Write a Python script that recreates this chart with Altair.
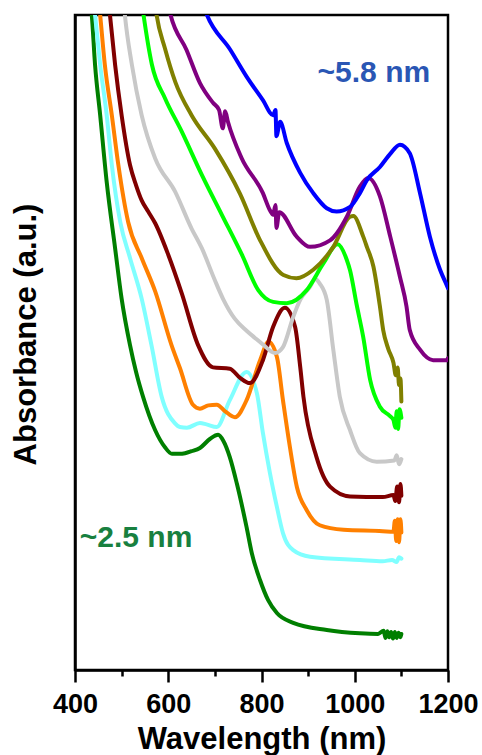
import altair as alt
import pandas as pd

FONT = "Liberation Sans"

# Series (wavelength in nm, absorbance in a.u., offset-stacked)
names = ["s1_2.5nm", "s2", "s3", "s4", "s5", "s6", "s7", "s8", "s9_5.8nm"]
colors = ["#007F00", "#80FFFF", "#FF8000", "#800000", "#C8C8C8",
          "#00FF00", "#808000", "#800080", "#0000FF"]

green_wl = [434, 436, 443, 454, 468, 486, 500, 518, 531, 546, 572, 593, 608, 625, 636, 650, 668, 690, 707, 718,
            732, 747, 768, 779, 797, 814, 833, 868, 940, 1011, 1050, 1062, 1066, 1070, 1074, 1078, 1082, 1086,
            1090, 1094, 1098, 1100]
green_ab = [10.15, 10.0, 9.24, 8.47, 7.45, 6.44, 5.67, 4.96, 4.55, 4.17, 3.66, 3.40, 3.30, 3.30, 3.31, 3.34, 3.39,
            3.53, 3.59, 3.50, 3.25, 2.85, 2.18, 1.79, 1.37, 1.07, 0.87, 0.72, 0.61, 0.56, 0.55, 0.60, 0.49, 0.59,
            0.50, 0.58, 0.48, 0.58, 0.49, 0.57, 0.50, 0.55]

cyan_wl = [441, 443, 454, 468, 479, 497, 518, 543, 564, 586, 614, 625, 640, 668, 682, 704, 732, 768, 790, 803,
           818, 833, 846, 868, 904, 1011, 1060, 1080, 1090, 1095, 1100]
cyan_ab = [10.15, 10.0, 9.24, 8.47, 7.71, 6.84, 6.29, 5.67, 4.96, 4.17, 3.77, 3.71, 3.70, 3.77, 3.75, 3.71, 4.12,
           4.55, 4.23, 3.62, 3.01, 2.49, 2.09, 1.83, 1.73, 1.68, 1.66, 1.68, 1.65, 1.72, 1.70]

orange_wl = [452, 454, 464, 479, 493, 514, 543, 572, 607, 625, 653, 668, 686, 704, 722, 743, 768, 797, 815, 833,
             846, 861, 876, 897, 925, 976, 1060, 1083, 1086, 1089, 1092, 1095, 1098, 1100]
orange_ab = [10.15, 10.0, 9.24, 8.47, 7.71, 6.84, 6.29, 5.78, 4.96, 4.61, 4.05, 3.99, 4.04, 4.05, 3.95, 3.86, 4.12,
             4.73, 5.01, 4.78, 4.12, 3.40, 2.79, 2.44, 2.21, 2.14, 2.12, 2.11, 2.28, 1.97, 2.30, 1.95, 2.30, 2.10]

maroon_wl = [473, 475, 486, 500, 518, 531, 543, 557, 572, 600, 629, 664, 696, 732, 754, 775, 803, 825, 850, 872,
             883, 890, 918, 947, 990, 1060, 1083, 1087, 1091, 1095, 1098, 1100]
maroon_ab = [10.15, 10.0, 9.24, 8.47, 7.71, 7.40, 7.17, 7.00, 6.82, 6.34, 5.75, 4.96, 4.62, 4.60, 4.46, 4.38, 4.73,
             5.24, 5.53, 5.24, 4.63, 4.17, 3.25, 2.80, 2.65, 2.64, 2.67, 2.58, 2.80, 2.56, 2.84, 2.66]

gray_wl = [505, 507, 522, 543, 572, 615, 650, 672, 700, 718, 743, 768, 786, 803, 829, 846, 868, 883, 904, 915,
           925, 940, 954, 968, 990, 1011, 1047, 1085, 1090, 1095, 1100]
gray_ab = [10.15, 10.0, 9.24, 8.47, 7.81, 7.30, 6.74, 6.44, 5.95, 5.66, 5.36, 5.18, 5.07, 4.97, 4.84, 4.93, 5.39,
           5.65, 5.85, 5.97, 5.90, 5.65, 4.89, 4.17, 3.66, 3.31, 3.18, 3.20, 3.28, 3.14, 3.22]

lime_wl = [544, 547, 565, 593, 629, 672, 715, 758, 793, 808, 825, 854, 897, 933, 963, 983, 990, 1004, 1018, 1033,
           1054, 1075, 1083, 1087, 1090, 1093, 1096, 1100]
lime_ab = [10.15, 10.0, 9.24, 8.73, 8.22, 7.56, 6.95, 6.34, 5.80, 5.68, 5.62, 5.60, 5.80, 6.21, 6.50, 6.26, 6.10,
           5.58, 5.09, 4.43, 4.02, 3.88, 3.82, 3.70, 3.95, 3.68, 3.98, 3.85]

olive_wl = [572, 575, 593, 615, 650, 700, 754, 797, 847, 875, 911, 954, 990, 997, 1018, 1026, 1040, 1054, 1061,
            1072, 1083, 1088, 1092, 1095, 1098, 1100]
olive_ab = [10.15, 10.0, 9.49, 8.98, 8.47, 7.96, 7.27, 6.56, 6.03, 5.98, 6.11, 6.46, 6.92, 6.93, 6.62, 6.46, 6.16,
            5.55, 5.19, 4.90, 4.69, 4.50, 4.62, 4.35, 4.45, 4.10]

purple_wl = [600, 605, 639, 668, 696, 709, 717, 722, 728, 757, 803, 818, 825, 830, 832, 838, 875, 904, 947, 983,
             1011, 1029, 1054, 1076, 1097, 1111, 1118, 1140, 1168, 1197, 1200]
purple_ab = [10.15, 10.0, 9.47, 8.96, 8.66, 8.55, 8.27, 8.53, 8.37, 7.82, 7.28, 7.02, 6.95, 7.10, 6.75, 6.99, 6.62,
             6.46, 6.56, 6.92, 7.38, 7.51, 7.23, 6.62, 6.00, 5.55, 5.19, 4.89, 4.73, 4.73, 4.76]

blue_wl = [675, 683, 733, 768, 803, 825, 830, 832, 840, 854, 883, 911, 940, 961, 990, 1011, 1026, 1054, 1076,
           1097, 1118, 1140, 1161, 1183, 1197, 1200]
blue_ab = [10.15, 10.0, 9.47, 9.06, 8.70, 8.47, 8.55, 8.15, 8.37, 8.05, 7.59, 7.28, 7.05, 7.00, 7.07, 7.28, 7.48,
           7.68, 7.88, 8.02, 7.89, 7.28, 6.62, 6.11, 5.88, 5.83]

all_wl = [green_wl, cyan_wl, orange_wl, maroon_wl, gray_wl, lime_wl, olive_wl, purple_wl, blue_wl]
all_ab = [green_ab, cyan_ab, orange_ab, maroon_ab, gray_ab, lime_ab, olive_ab, purple_ab, blue_ab]

label_text = ["~5.8 nm", "~2.5 nm"]
label_wl = [1041, 531]
label_ab = [9.11, 2.02]
label_col = ["#2A56B4", "#18803F"]

x_ticks = [400, 500, 600, 700, 800, 900, 1000, 1100, 1200]

rows = []
for name, wl, ab in zip(names, all_wl, all_ab):
    for k, (w, a) in enumerate(zip(wl, ab)):
        rows.append({"series": name, "wl": w, "ab": a, "i": k})
df = pd.DataFrame(rows)

lab_df = pd.DataFrame({"label": label_text, "wl": label_wl, "ab": label_ab, "col": label_col})

x_axis = alt.Axis(
    values=x_ticks,
    labelExpr="datum.value % 200 === 0 ? toString(datum.value) : ''",
    tickSize={"condition": {"test": "datum.value % 200 === 0", "value": 12}, "value": 6},
    tickWidth=2.5, tickColor="black",
    domainWidth=2.5, domainColor="black",
    labelFont=FONT, labelFontSize=27, labelFontWeight="bold", labelColor="black",
    labelPadding=9, labelOverlap=False, labelFlush=False, labelBound=False,
    grid=False,
    title="Wavelength (nm)", titleFont=FONT, titleFontSize=31, titleFontWeight="bold",
    titleColor="black", titleY=78, titleBaseline="alphabetic",
)
y_axis = alt.Axis(
    ticks=False, labels=False, grid=False,
    domainWidth=2.5, domainColor="black",
    title="Absorbance (a.u.)", titleFont=FONT, titleFontSize=31, titleFontWeight="bold",
    titleColor="black", titleX=-40, titleY=319, titleBaseline="alphabetic",
)

lines = alt.Chart(df).mark_line(strokeWidth=4, clip=True, strokeCap="round", strokeJoin="round",
                                interpolate="monotone").encode(
    x=alt.X("wl:Q", scale=alt.Scale(domain=[400, 1200], nice=False, zero=False), axis=x_axis),
    y=alt.Y("ab:Q", scale=alt.Scale(domain=[0, 10], nice=False, zero=False), axis=y_axis),
    color=alt.Color("series:N", scale=alt.Scale(domain=names, range=colors), legend=None),
    order="i:Q",
)

labels = alt.Chart(lab_df).mark_text(font=FONT, fontSize=30, fontWeight="bold", align="center",
                                     baseline="middle").encode(
    x="wl:Q", y="ab:Q", text="label:N", color=alt.Color("col:N", scale=None),
)

chart = alt.layer(lines, labels).properties(
    width=373, height=655,
    padding={"left": 75, "top": 15, "right": 34, "bottom": 85},
    autosize="none",
).configure_view(stroke="black", strokeWidth=2.5)

chart.save("out.html", embed_options={"renderer": "svg", "actions": False})
